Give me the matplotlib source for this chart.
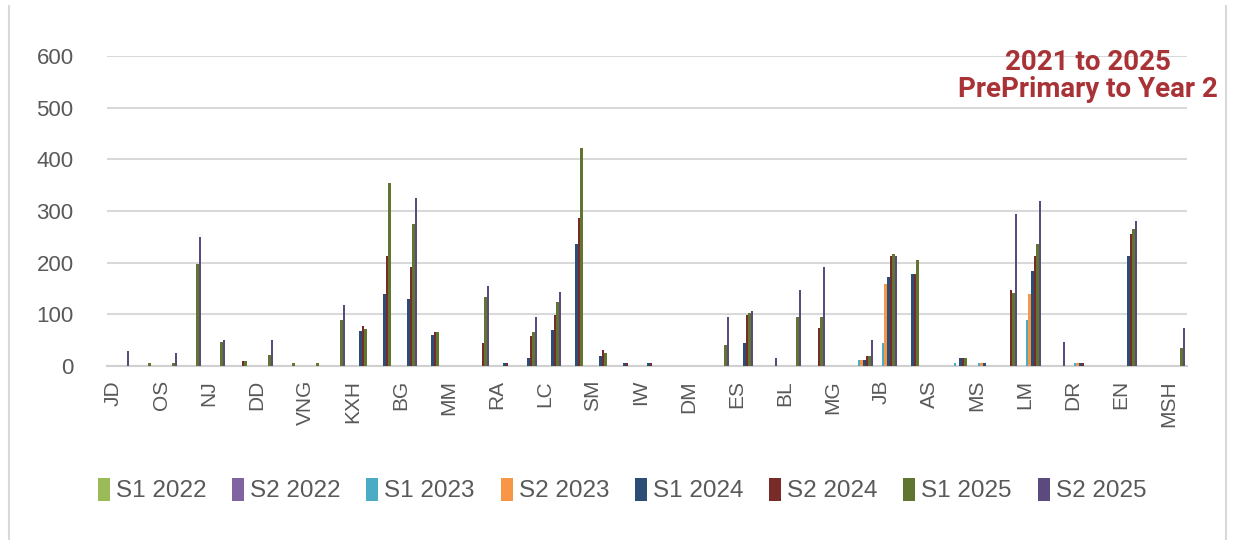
import numpy as np
import matplotlib
matplotlib.use("Agg")
from matplotlib import pyplot as plt
from matplotlib import font_manager
from matplotlib.lines import Line2D
from matplotlib.transforms import ScaledTranslation

# Category labels (Excel shows every second category)
labels = ["JD", "OS", "NJ", "DD", "VNG", "KXH", "BG", "MM", "RA", "LC", "SM", "IW",
          "DM", "ES", "BL", "MG", "JB", "AS", "MS", "LM", "DR", "EN", "MSH"]
n_cat = 45

series_names = ["S1 2022", "S2 2022", "S1 2023", "S2 2023",
                "S1 2024", "S2 2024", "S1 2025", "S2 2025"]
series_colors = ["#9BBB59", "#8064A2", "#4BACC6", "#F79646",
                 "#2C4D75", "#772C2A", "#5F7530", "#5A4A7E"]

s1_2022 = [0] * 45
s2_2022 = [0] * 45
s1_2023 = [0, 0, 0, 0, 0, 0, 0, 0, 0, 0, 0, 0, 0, 0, 0, 0, 0, 0, 0, 0, 0, 0, 0,
           0, 0, 0, 0, 0, 0, 0, 0, 12, 45, 0, 0, 5, 5, 0, 90, 0, 5, 0, 0, 0, 0]
s2_2023 = [0, 0, 0, 0, 0, 0, 0, 0, 0, 0, 0, 0, 0, 0, 0, 0, 0, 0, 0, 0, 0, 0, 0,
           0, 0, 0, 0, 0, 0, 0, 0, 12, 159, 0, 0, 0, 5, 0, 139, 0, 5, 0, 0, 0, 0]
s1_2024 = [0, 0, 0, 0, 0, 0, 0, 0, 0, 0, 68, 139, 129, 60, 0, 0, 5, 15, 70, 236, 19, 5, 5,
           0, 0, 0, 44, 0, 0, 0, 0, 12, 173, 178, 0, 16, 5, 0, 183, 0, 5, 0, 212, 0, 0]
s2_2024 = [0, 0, 0, 0, 0, 10, 0, 0, 0, 0, 78, 212, 192, 65, 0, 44, 5, 58, 99, 286, 31, 5, 5,
           0, 0, 0, 99, 0, 0, 74, 0, 20, 212, 178, 0, 16, 0, 147, 212, 0, 5, 0, 255, 0, 0]
s1_2025 = [0, 5, 5, 197, 46, 10, 21, 5, 5, 89, 72, 354, 275, 65, 0, 133, 0, 65, 123, 422, 26, 0, 0,
           0, 0, 41, 103, 0, 94, 94, 0, 20, 216, 206, 0, 16, 0, 142, 236, 0, 0, 0, 265, 0, 34]
s2_2025 = [30, 0, 26, 250, 50, 0, 50, 0, 0, 119, 0, 0, 325, 0, 0, 154, 0, 94, 143, 0, 0, 0, 0,
           0, 0, 94, 107, 16, 147, 192, 0, 50, 213, 0, 0, 0, 0, 294, 319, 46, 0, 0, 281, 0, 74]

all_series = [s1_2022, s2_2022, s1_2023, s2_2023, s1_2024, s2_2024, s1_2025, s2_2025]

title_text = "2021 to 2025\nPrePrimary to Year 2"

available = {f.name for f in font_manager.fontManager.ttflist}
chart_font = "Liberation Sans Narrow" if "Liberation Sans Narrow" in available else "Liberation Sans"
title_font = "Roboto" if "Roboto" in available else "DejaVu Sans"

fig = plt.figure(figsize=(12.33, 5.4), dpi=100)
ax = fig.add_axes([107 / 1233, 1 - 366 / 540, 1080 / 1233, 310 / 540])

x = np.arange(n_cat)
bw = 0.105
for k, (vals, name, col) in enumerate(zip(all_series, series_names, series_colors)):
    ax.bar(x + (k - 3.5) * bw, vals, width=bw, color=col, label=name, linewidth=0, zorder=3)

ax.set_xlim(-0.5, n_cat - 0.5)
ax.set_ylim(0, 600)
ax.set_yticks(range(0, 601, 100))
ax.grid(axis="y", color="#D9D9D9", linewidth=1.5, zorder=0)
for sp in ["top", "right", "left"]:
    ax.spines[sp].set_visible(False)
ax.spines["bottom"].set_color("#D0D0D0")
ax.spines["bottom"].set_linewidth(1.5)

ax.set_xticks(np.arange(0, n_cat, 2))
ax.set_xticklabels(labels, rotation=90, fontsize=15, color="#595959", family=chart_font)
ax.tick_params(axis="x", length=0, pad=10)
ax.tick_params(axis="y", length=0, pad=24, labelsize=16, labelcolor="#595959")
for t in ax.get_yticklabels():
    t.set_family(chart_font)
shift = ScaledTranslation(-6 / 100, 0, fig.dpi_scale_trans)
for t in ax.get_xticklabels():
    t.set_transform(t.get_transform() + shift)

fig.legend(loc="center", bbox_to_anchor=(622 / 1233, 1 - 490 / 540), ncol=8,
           frameon=False, handlelength=0.5, handleheight=1.1, handletextpad=0.25,
           columnspacing=1.05, prop={"family": chart_font, "size": 17.5},
           labelcolor="#595959")

fig.text(1088 / 1233, 1 - 76 / 540, title_text, ha="center", va="center",
         multialignment="center", color="#A83236", fontsize=20, fontweight="bold",
         family=title_font, linespacing=1.0)

# chart frame edges
fig.add_artist(Line2D([9 / 1233, 9 / 1233], [0, 1 - 6 / 540], color="#D9D9D9", linewidth=1.5))
fig.add_artist(Line2D([1226 / 1233, 1226 / 1233], [0, 1 - 6 / 540], color="#D9D9D9", linewidth=1.5))

fig.savefig("out.png", dpi=100)
